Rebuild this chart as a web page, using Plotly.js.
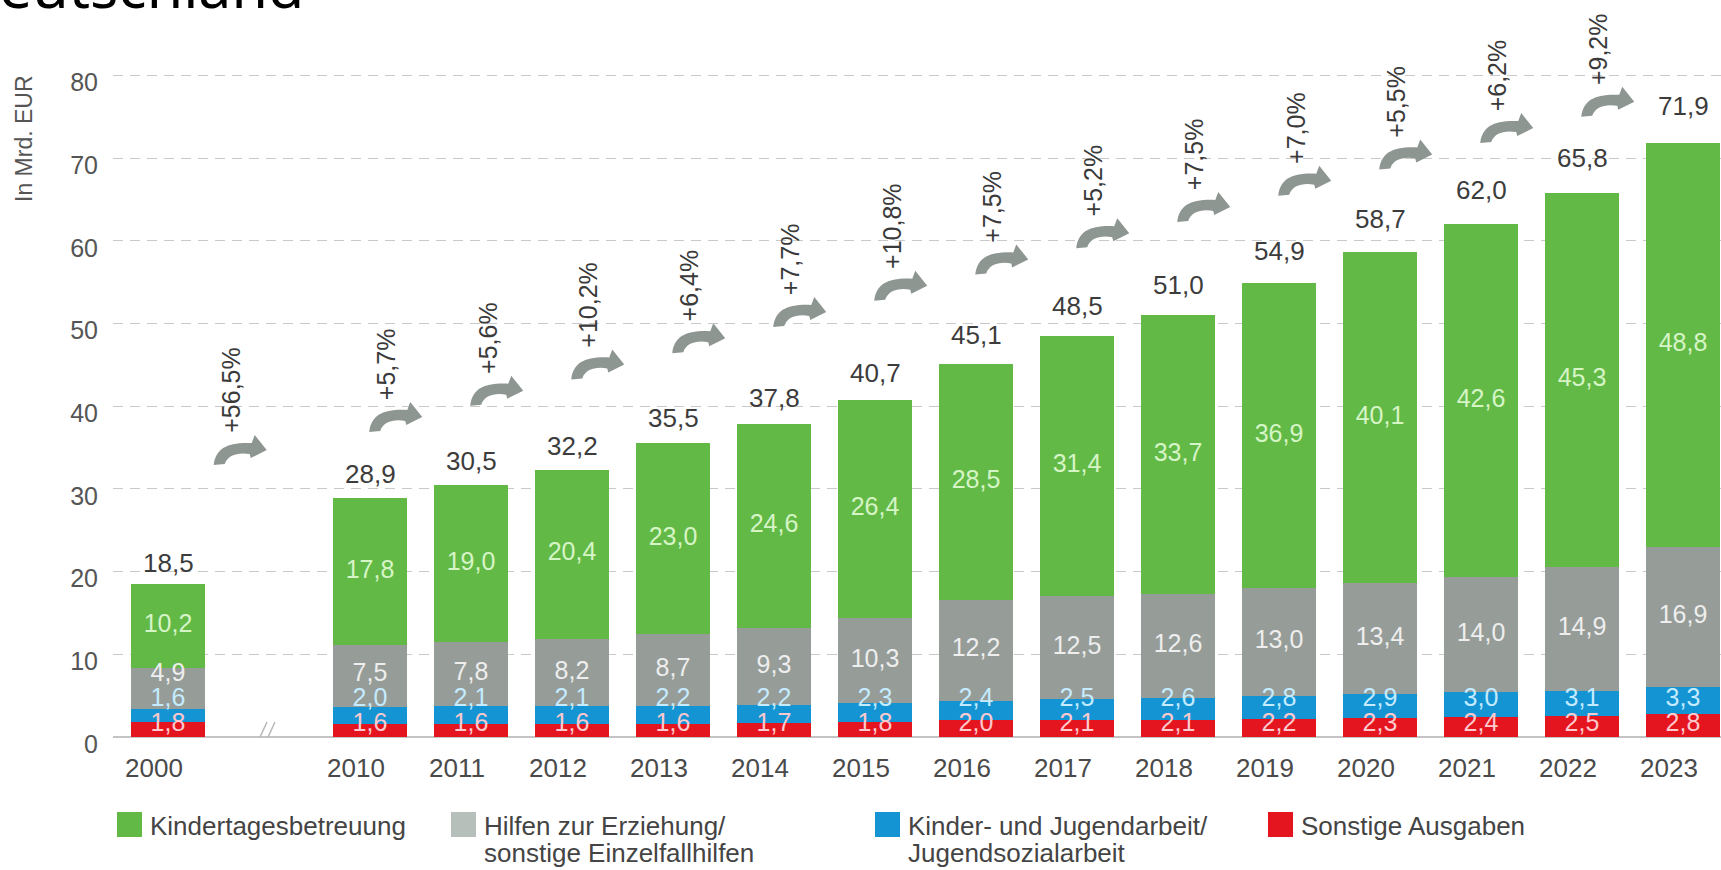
<!DOCTYPE html>
<html>
<head>
<meta charset="utf-8">
<script src="https://cdn.plot.ly/plotly-3.0.1.min.js"></script>
<style>
html, body { margin: 0; padding: 0; background: #ffffff; }
#chart { width: 1721px; height: 870px; }
</style>
</head>
<body>
<div id="chart"></div>
<script>
// ---------------- data ----------------
const years = [2000, 2010, 2011, 2012, 2013, 2014, 2015, 2016, 2017, 2018, 2019, 2020, 2021, 2022, 2023];
const sonstige = [1.8, 1.6, 1.6, 1.6, 1.6, 1.7, 1.8, 2.0, 2.1, 2.1, 2.2, 2.3, 2.4, 2.5, 2.8];
const jugendarbeit = [1.6, 2.0, 2.1, 2.1, 2.2, 2.2, 2.3, 2.4, 2.5, 2.6, 2.8, 2.9, 3.0, 3.1, 3.3];
const hilfen = [4.9, 7.5, 7.8, 8.2, 8.7, 9.3, 10.3, 12.2, 12.5, 12.6, 13.0, 13.4, 14.0, 14.9, 16.9];
const kita = [10.2, 17.8, 19.0, 20.4, 23.0, 24.6, 26.4, 28.5, 31.4, 33.7, 36.9, 40.1, 42.6, 45.3, 48.8];
const totals = [18.5, 28.9, 30.5, 32.2, 35.5, 37.8, 40.7, 45.1, 48.5, 51.0, 54.9, 58.7, 62.0, 65.8, 71.9];
const growth = [56.5, 5.7, 5.6, 10.2, 6.4, 7.7, 10.8, 7.5, 5.2, 7.5, 7.0, 5.5, 6.2, 9.2];
const seriesNames = [
  ['Kindertagesbetreuung'],
  ['Hilfen zur Erziehung/', 'sonstige Einzelfallhilfen'],
  ['Kinder- und Jugendarbeit/', 'Jugendsozialarbeit'],
  ['Sonstige Ausgaben']
];

// ---------------- styles ----------------
const FONT = 'Liberation Sans, Arial, sans-serif';
const C_GREEN = '#63b946', C_GRAY = '#969c98', C_BLUE = '#1594d4', C_RED = '#e4151f';
const C_GRAY_LEG = '#b7bfba', C_ARROW = '#8e9692';
const W = 1721, H = 870, ML = 113, MR = 0, MT = 9, MB = 133;
const plotW = W - ML - MR, plotH = H - MT - MB;
const px2x = px => (px - ML) / plotW;
const px2y = py => (H - MB - py) / plotH;
const fmt = v => v.toFixed(1).replace('.', ',');

// slot on the x axis: one empty slot after 2000 for the axis break
const xs = years.map((y, i) => i + (i > 0 ? 1 : 0));

// label y positions inside the stacks
const redY = [], blueY = [], grayY = [], greenY = [];
years.forEach((y, i) => {
  const s = sonstige[i], j = jugendarbeit[i], h = hilfen[i], k = kita[i];
  redY.push(Math.max(s / 2, 1.5));
  blueY.push(Math.max(s + j / 2, redY[i] + 3.0));
  grayY.push(Math.max(s + j + h / 2, blueY[i] + 3.0));
  greenY.push(s + j + h + k / 2);
});

function barTrace(vals, color, name) {
  return { type: 'bar', x: xs, y: vals, name: name, marker: { color: color, line: { width: 0 } },
           width: 0.73, showlegend: false, hoverinfo: 'skip' };
}
function labelTrace(ys, vals, color) {
  return { type: 'scatter', mode: 'text', x: xs, y: ys, text: vals.map(fmt),
           textposition: 'middle center', textfont: { family: FONT, size: 25, color: color },
           showlegend: false, hoverinfo: 'skip', cliponaxis: false };
}

const traces = [
  barTrace(sonstige, C_RED, 'Sonstige Ausgaben'),
  barTrace(jugendarbeit, C_BLUE, 'Kinder- und Jugendarbeit/Jugendsozialarbeit'),
  barTrace(hilfen, C_GRAY, 'Hilfen zur Erziehung/sonstige Einzelfallhilfen'),
  barTrace(kita, C_GREEN, 'Kindertagesbetreuung'),
  labelTrace(greenY, kita, '#d6f5c6'),
  labelTrace(grayY, hilfen, '#eeeeee'),
  labelTrace(blueY, jugendarbeit, '#c4ebff'),
  labelTrace(redY, sonstige, '#ffc9cd')
];

const annotations = [];
const shapes = [];

// totals above bars
years.forEach((y, i) => {
  annotations.push({ x: xs[i], y: totals[i] * 1.037 + 1.8, xref: 'x', yref: 'y', text: fmt(totals[i]),
    showarrow: false, xanchor: 'center', yanchor: 'middle',
    font: { family: FONT, size: 26, color: '#3c3c3c' } });
});

// growth arrows + percentages (arrows climb along a straight line above the bars)
const arrowPath = 'M -26 -15 C -24 2, -12 8, 12 7 L 15 15 L 27 0 L 11 -8 L 10 -4 C -2 -2, -12 -5, -15 -14 Z';
const nG = growth.length;
const lineStart = totals[1] + 9.8, lineEnd = totals[nG - 1] + 11.0;
growth.forEach((g, i) => {
  const p0 = xs[i], p1 = xs[i + 1];
  const gapSlots = p1 - p0 - 1;
  const ax = p0 + 0.25 + gapSlots * 0.46;
  const level = gapSlots > 0 ? (totals[i] + totals[i + 1]) / 2 + 11
                             : lineStart + (lineEnd - lineStart) * (i - 1) / (nG - 2);
  shapes.push({ type: 'path', xref: 'x', yref: 'y', xsizemode: 'pixel', ysizemode: 'pixel',
    xanchor: ax, yanchor: level, path: arrowPath, fillcolor: C_ARROW, line: { width: 0 }, layer: 'above' });
  annotations.push({ x: ax, y: level, xref: 'x', yref: 'y', text: '+' + fmt(g) + '%',
    showarrow: false, textangle: -90, xanchor: 'center', yanchor: 'bottom', xshift: -9, yshift: 15,
    font: { family: FONT, size: 25, color: '#3a3a3a' } });
});

// axis break marker
shapes.push({ type: 'path', xref: 'x', yref: 'y', xsizemode: 'pixel', ysizemode: 'pixel',
  xanchor: 1, yanchor: 0, path: 'M -14 -11 L -2 15 M -6 -11 L 6 15',
  line: { color: '#b8b8b8', width: 1.5 } });

// y axis title
annotations.push({ x: px2x(24), y: px2y(139), xref: 'paper', yref: 'paper', text: 'In Mrd. EUR',
  showarrow: false, textangle: -90, xanchor: 'center', yanchor: 'middle',
  font: { family: FONT, size: 23, color: '#555555' } });

// cut-off page heading
annotations.push({ x: px2x(-46), y: px2y(27), xref: 'paper', yref: 'paper', text: 'Deutschland',
  showarrow: false, xanchor: 'left', yanchor: 'bottom',
  font: { family: 'Noto Sans, sans-serif', size: 59, color: '#000000' } });

// custom legend
const legendItems = [
  { color: C_GREEN, x: 117, lines: seriesNames[0] },
  { color: C_GRAY_LEG, x: 451, lines: seriesNames[1] },
  { color: C_BLUE, x: 875, lines: seriesNames[2] },
  { color: C_RED, x: 1268, lines: seriesNames[3] }
];
legendItems.forEach(it => {
  shapes.push({ type: 'rect', xref: 'paper', yref: 'paper', x0: px2x(it.x), x1: px2x(it.x + 25),
    y0: px2y(837), y1: px2y(812), fillcolor: it.color, line: { width: 0 } });
  it.lines.forEach((ln, k) => {
    annotations.push({ x: px2x(it.x + 31), y: px2y(826 + k * 27), xref: 'paper', yref: 'paper', text: ln,
      showarrow: false, xanchor: 'left', yanchor: 'middle', align: 'left',
      font: { family: FONT, size: 26, color: '#444444' } });
  });
});

const layout = {
  width: W, height: H,
  margin: { l: ML, r: MR, t: MT, b: MB, pad: 0 },
  paper_bgcolor: '#ffffff', plot_bgcolor: '#ffffff',
  barmode: 'stack',
  showlegend: false,
  separators: ',.',
  font: { family: FONT, color: '#555555' },
  xaxis: {
    range: [(ML - 168) / 101, (W - MR - 168) / 101],
    tickvals: xs, ticktext: years.map(String),
    showgrid: false, zeroline: false, showline: false, ticks: '',
    tickfont: { family: FONT, size: 26, color: '#4a4a4a' },
    ticklabelshift: -14, ticklabelstandoff: 13, fixedrange: true
  },
  yaxis: {
    range: [0, plotH / 8.27],
    tickvals: [0, 10, 20, 30, 40, 50, 60, 70, 80],
    showgrid: true, gridcolor: '#c9c9c9', gridwidth: 1, griddash: '10px,7px',
    zeroline: true, zerolinecolor: '#c4c4c4', zerolinewidth: 1.5,
    showline: false, ticks: '',
    tickfont: { family: FONT, size: 25, color: '#555555' },
    ticklabelshift: 7, ticklabelstandoff: 14, fixedrange: true
  },
  annotations: annotations,
  shapes: shapes
};

Plotly.newPlot('chart', traces, layout, { displayModeBar: false, staticPlot: true });
</script>
</body>
</html>
